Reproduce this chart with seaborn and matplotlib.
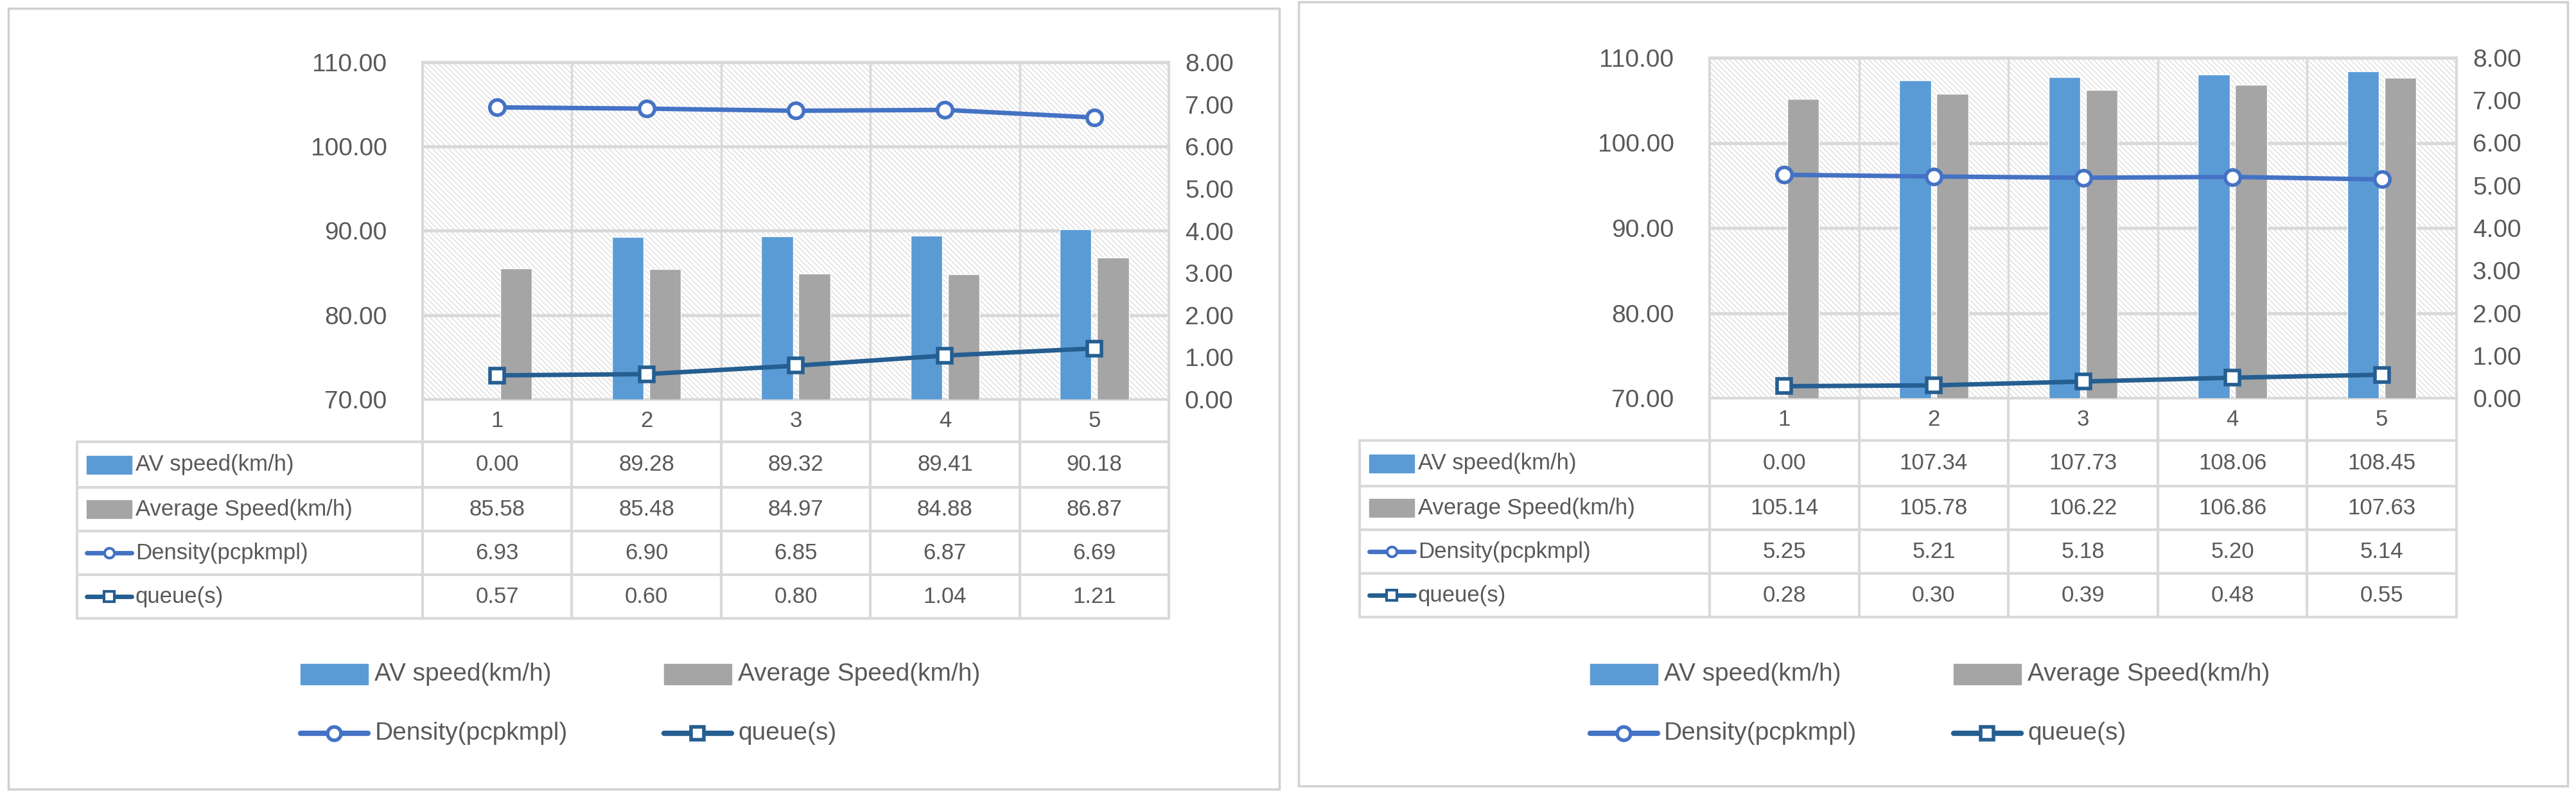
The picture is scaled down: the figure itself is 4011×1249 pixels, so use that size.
import numpy as np
import pandas as pd
import matplotlib
matplotlib.use("Agg")
import matplotlib.pyplot as plt
from matplotlib.patches import Rectangle
import seaborn as sns

sns.set_theme(style="white")
plt.rcParams['font.family'] = ['Liberation Sans', 'DejaVu Sans']

categories = ["1", "2", "3", "4", "5"]
series_names = ["AV speed(km/h)", "Average Speed(km/h)", "Density(pcpkmpl)", "queue(s)"]
# left chart
L_av = [0.00, 89.28, 89.32, 89.41, 90.18]
L_avg = [85.58, 85.48, 84.97, 84.88, 86.87]
L_den = [6.93, 6.90, 6.85, 6.87, 6.69]
L_q = [0.57, 0.60, 0.80, 1.04, 1.21]
# right chart
R_av = [0.00, 107.34, 107.73, 108.06, 108.45]
R_avg = [105.14, 105.78, 106.22, 106.86, 107.63]
R_den = [5.25, 5.21, 5.18, 5.20, 5.14]
R_q = [0.28, 0.30, 0.39, 0.48, 0.55]
left_ticks = [70, 80, 90, 100, 110]
right_ticks = [0, 1, 2, 3, 4, 5, 6, 7, 8]

W, H = 4012, 1249
fig = plt.figure(figsize=(W / 100, H / 100), dpi=100)
over = fig.add_axes([0, 0, 1, 1], zorder=-5)
over.set_xlim(0, W); over.set_ylim(H, 0); over.axis("off")

C_AV, C_AVG, C_DEN, C_Q = "#5B9BD5", "#A5A5A5", "#4472C4", "#255E91"
GRID = "#D9D9D9"
TXT = "#595959"
FS = 25


def ax_rect(x0, y0, x1, y1):
    return [x0 / W, 1 - y1 / H, (x1 - x0) / W, (y1 - y0) / H]


def panel(box, px0, py0, px1, py1, tleft, av, avg, den, q):
    bx0, by0, bx1, by1 = box
    over.add_patch(Rectangle((bx0, by0), bx1 - bx0, by1 - by0, fill=False,
                             edgecolor="#D0D0D0", lw=2.5))
    ax = fig.add_axes(ax_rect(px0, py0, px1, py1))
    ax.add_patch(Rectangle((0, 0), 1, 1, transform=ax.transAxes, facecolor="white",
                           hatch="\\\\\\\\", edgecolor="#DDDDDD", lw=0, zorder=0))
    df = pd.DataFrame({"cat": categories * 2,
                       "val": av + avg,
                       "series": [series_names[0]] * 5 + [series_names[1]] * 5})
    sns.barplot(data=df, x="cat", y="val", hue="series", palette=[C_AV, C_AVG],
                width=0.5, gap=0.15, ax=ax, legend=False, zorder=3, saturation=1)
    ax.set_ylim(70, 110)
    ax.set_xlim(-0.5, 4.5)
    ax.set_yticks(left_ticks)
    ax.set_yticklabels([f"{v:.2f}" for v in left_ticks], fontsize=FS + 3, color=TXT)
    ax.set_xticks([])
    ax.set_xlabel(""); ax.set_ylabel("")
    ax.tick_params(axis="y", length=0, pad=40)
    for y in left_ticks:
        ax.axhline(y, color=GRID, lw=3.5, zorder=1)
    for xv in np.arange(0.5, 4.5, 1):
        ax.axvline(xv, color=GRID, lw=2.5, zorder=1)
    for s in ax.spines.values():
        s.set_color(GRID); s.set_linewidth(3)
    ax2 = ax.twinx()
    ldf = pd.DataFrame({"x": np.arange(5), "den": den, "q": q})
    sns.lineplot(data=ldf, x="x", y="den", ax=ax2, color=C_DEN, lw=5, marker="o",
                 markersize=17, markerfacecolor="white", markeredgecolor=C_DEN,
                 markeredgewidth=4, zorder=5)
    sns.lineplot(data=ldf, x="x", y="q", ax=ax2, color=C_Q, lw=5, marker="s",
                 markersize=16, markerfacecolor="white", markeredgecolor=C_Q,
                 markeredgewidth=4, zorder=5)
    ax2.set_ylim(0, 8)
    ax2.set_yticks(right_ticks)
    ax2.set_yticklabels([f"{v:.2f}" for v in right_ticks], fontsize=FS + 3, color=TXT)
    ax2.tick_params(axis="y", length=0, pad=18)
    ax2.set_xlabel(""); ax2.set_ylabel("")
    for s in ax2.spines.values():
        s.set_visible(False)

    # data table
    cw = (px1 - px0) / 5
    rows = [py1, py1 + 66, py1 + 137, py1 + 205, py1 + 273, py1 + 341]
    lw = 3
    over.plot([px0, px1], [rows[0], rows[0]], color=GRID, lw=lw)
    for r in rows[1:]:
        over.plot([tleft, px1], [r, r], color=GRID, lw=lw)
    over.plot([tleft, tleft], [rows[1], rows[-1]], color=GRID, lw=lw)
    for i in range(6):
        xv = px0 + i * cw
        over.plot([xv, xv], [rows[0], rows[-1]], color=GRID, lw=lw)
    for i, c in enumerate(categories):
        over.text(px0 + (i + 0.5) * cw, (rows[0] + rows[1]) / 2, c, ha="center",
                  va="center", fontsize=FS, color=TXT)
    vals = [av, avg, den, q]
    for r, (name, vv) in enumerate(zip(series_names, vals)):
        yc = (rows[r + 1] + rows[r + 2]) / 2
        for i, v in enumerate(vv):
            over.text(px0 + (i + 0.5) * cw, yc, f"{v:.2f}", ha="center", va="center",
                      fontsize=FS, color=TXT)
        kx = tleft + 15
        if r < 2:
            over.add_patch(Rectangle((kx, yc - 14), 70, 28, color=[C_AV, C_AVG][r]))
        else:
            over.plot([kx, kx + 70], [yc, yc], color=[C_DEN, C_Q][r - 2], lw=5)
            over.plot([kx + 35], [yc], marker="o" if r == 2 else "s", ms=11,
                      mfc="white", mec=[C_DEN, C_Q][r - 2], mew=3)
        over.text(kx + 76, yc, name, ha="left", va="center", fontsize=FS, color=TXT)

    # legend
    cx = (bx0 + bx1) / 2
    lx1 = cx - 534
    lx2 = cx + 32
    ly1, ly2 = 1050, 1142
    for lx, ly, k in [(lx1, ly1, 0), (lx2, ly1, 1), (lx1, ly2, 2), (lx2, ly2, 3)]:
        if k < 2:
            over.add_patch(Rectangle((lx, ly - 16), 105, 32, color=[C_AV, C_AVG][k]))
        else:
            col = [C_DEN, C_Q][k - 2]
            over.plot([lx, lx + 105], [ly, ly], color=col, lw=6)
            over.plot([lx + 52], [ly], marker="o" if k == 2 else "s", ms=15,
                      mfc="white", mec=col, mew=4)
        over.text(lx + 115, ly, series_names[k], ha="left", va="center",
                  fontsize=FS + 3, color=TXT)


panel((13, 13, 1992, 1229), 658, 97, 1820, 622, 120, L_av, L_avg, L_den, L_q)
panel((2022, 3, 3998, 1224), 2662, 90, 3825, 620, 2117, R_av, R_avg, R_den, R_q)

fig.savefig("out.png", dpi=100, facecolor="white")
